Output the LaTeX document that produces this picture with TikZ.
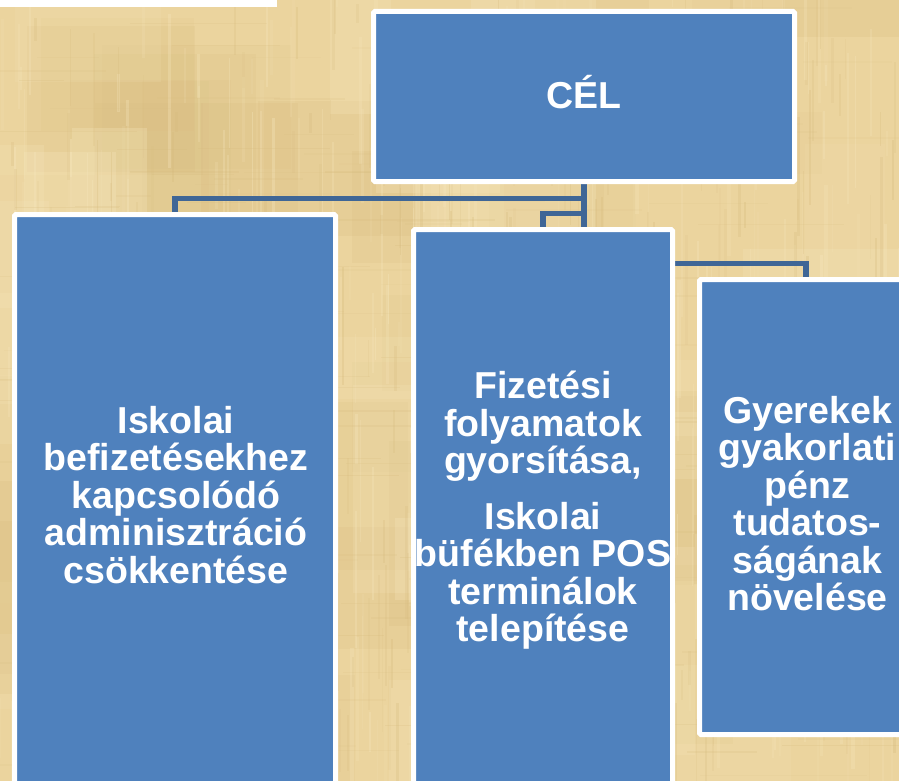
\documentclass[tikz,border=0pt]{standalone}
\usepackage{fontspec}
\setmainfont{Liberation Sans}
\definecolor{boxblue}{RGB}{79,129,189}
\definecolor{linkblue}{RGB}{63,102,150}
\definecolor{paper}{RGB}{235,212,158}
\definecolor{paperlight}{RGB}{246,230,188}
\definecolor{paperdark}{RGB}{214,186,124}
\pgfdeclarelayer{bg}
\pgfdeclarelayer{links}
\pgfsetlayers{bg,links,main}
\begin{document}
\begin{tikzpicture}[x=1pt,y=-1pt,
  box/.style={draw=white, line width=5pt, fill=boxblue, inner sep=0pt, rounded corners=1.5pt},
  txt/.style={text=white, font=\fontsize{37.5}{37.5}\selectfont\bfseries, align=center, inner sep=0pt},
  link/.style={draw=linkblue, line width=5.5pt}]
\useasboundingbox (0,0) rectangle (899,781);
\clip (0,0) rectangle (899,781);
\begin{pgfonlayer}{bg}
  \fill[paper] (0,0) rectangle (899,781);
  \pgfmathsetseed{11}
  % large mottled patches
  \foreach \i in {1,...,40} {
    \pgfmathsetmacro\xx{rnd*899-80}
    \pgfmathsetmacro\yy{rnd*781-80}
    \pgfmathsetmacro\ww{60+rnd*160}
    \pgfmathsetmacro\hh{60+rnd*160}
    \pgfmathsetmacro\op{0.08+rnd*0.15}
    \fill[paperdark, opacity=\op] (\xx,\yy) rectangle ++(\ww,\hh);
  }
  \foreach \i in {1,...,40} {
    \pgfmathsetmacro\xx{rnd*899-80}
    \pgfmathsetmacro\yy{rnd*781-80}
    \pgfmathsetmacro\ww{60+rnd*160}
    \pgfmathsetmacro\hh{60+rnd*160}
    \pgfmathsetmacro\op{0.1+rnd*0.2}
    \fill[paperlight, opacity=\op] (\xx,\yy) rectangle ++(\ww,\hh);
  }
  % fine vertical fibres
  \foreach \i in {1,...,320} {
    \pgfmathsetmacro\xx{rnd*899}
    \pgfmathsetmacro\yy{rnd*781-60}
    \pgfmathsetmacro\ll{20+rnd*140}
    \pgfmathsetmacro\ww{1+rnd*2.5}
    \pgfmathsetmacro\op{0.1+rnd*0.25}
    \fill[paperlight, opacity=\op] (\xx,\yy) rectangle ++(\ww,\ll);
  }
  \foreach \i in {1,...,320} {
    \pgfmathsetmacro\xx{rnd*899}
    \pgfmathsetmacro\yy{rnd*781-60}
    \pgfmathsetmacro\ll{15+rnd*110}
    \pgfmathsetmacro\ww{1+rnd*2}
    \pgfmathsetmacro\op{0.08+rnd*0.22}
    \fill[paperdark, opacity=\op] (\xx,\yy) rectangle ++(\ww,\ll);
  }
  % fine horizontal fibres
  \foreach \i in {1,...,200} {
    \pgfmathsetmacro\xx{rnd*899-60}
    \pgfmathsetmacro\yy{rnd*781}
    \pgfmathsetmacro\ll{30+rnd*140}
    \pgfmathsetmacro\op{0.06+rnd*0.18}
    \fill[paperdark, opacity=\op] (\xx,\yy) rectangle ++(\ll,1.5);
  }
  \fill[white] (0,0) rectangle (277,7);
\end{pgfonlayer}

\node[box, minimum width=421pt, minimum height=170pt] (cel) at (584,96.5) {};
\node[box, minimum width=321pt, minimum height=580pt] (left) at (175,504.5) {};
\node[box, minimum width=259pt, minimum height=560pt] (mid) at (543,509.5) {};
\node[box, minimum width=213pt, minimum height=455pt] (right) at (806,507) {};

\node[txt, anchor=base] (celtxt) at (584,109) {CÉL};
\node[txt, anchor=north] (lefttxt) at (176,406) {Iskolai\\befizetésekhez\\kapcsolódó\\adminisztráció\\csökkentése};
\node[txt, anchor=north] (midtxt) at (543,371) {Fizetési\\folyamatok\\gyorsítása,\\[18pt]Iskolai\\büfékben POS\\terminálok\\telepítése};
\node[txt, anchor=north] (righttxt) at (807.5,396) {Gyerekek\\gyakorlati\\pénz\\tudatos-\\ságának\\növelése};

\begin{pgfonlayer}{links}
  \draw[link] (cel.south) -- ++(0,14.5) -| (left.north);
  \draw[link] (cel.south) -- ++(0,29.5) -| (mid.north);
  \draw[link] (cel.south) -- (cel.south |- mid.north);
  \draw[link] (cel.south) -- ++(0,79.5) -| (right.north);
\end{pgfonlayer}
\end{tikzpicture}
\end{document}
